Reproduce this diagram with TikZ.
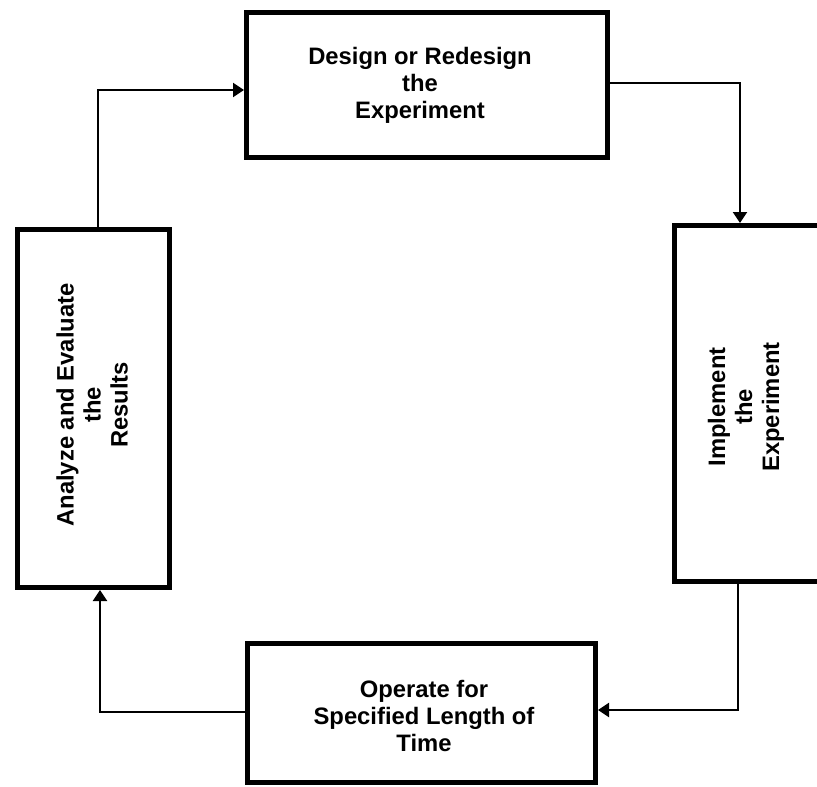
\documentclass[tikz,border=0pt]{standalone}
\usepackage{fontspec}
\setmainfont{Liberation Sans}
\usetikzlibrary{arrows.meta}
\begin{document}
\begin{tikzpicture}[x=1pt,y=-1pt,
  box/.style={draw=black,line width=5pt,inner sep=0pt,rectangle,fill=white},
  lbl/.style={align=center,font=\bfseries\fontsize{23.8}{27}\selectfont,inner sep=0pt},
  conn/.style={line width=2pt,-{Triangle[length=11pt,width=14pt]}}]
\useasboundingbox (0,0) rectangle (817,787);
\clip (0,0) rectangle (817,787);
\fill[white] (0,0) rectangle (817,787);
\node[box,minimum width=361pt,minimum height=145pt] (T) at (427,85) {};
\node[lbl] (Tt) at (420,85) {Design or Redesign\\the\\Experiment};
\node[box,minimum width=152pt,minimum height=358pt] (L) at (93.5,408.5) {};
\node[lbl,rotate=90] (Lt) at (92,405) {Analyze and Evaluate\\the\\Results};
\node[box,minimum width=148pt,minimum height=356pt] (R) at (748.5,403.5) {};
\node[lbl,rotate=90] (Rt) at (746,407) {Implement\\the\\Experiment};
\node[box,minimum width=348pt,minimum height=139pt] (B) at (421.5,713) {};
\node[lbl] (Bt) at (424,716) {Operate for\\Specified Length of\\Time};
\draw[conn] ([xshift=4.5pt]L.north) |- ([yshift=-5pt]T.west);
\draw[conn] ([yshift=2pt]T.east) -| ([xshift=-8.5pt]R.north);
\draw[conn] ([xshift=-10.5pt]R.south) |- ([yshift=3pt]B.east);
\draw[conn] ([yshift=1pt]B.west) -| ([xshift=6.5pt]L.south);
\end{tikzpicture}
\end{document}
